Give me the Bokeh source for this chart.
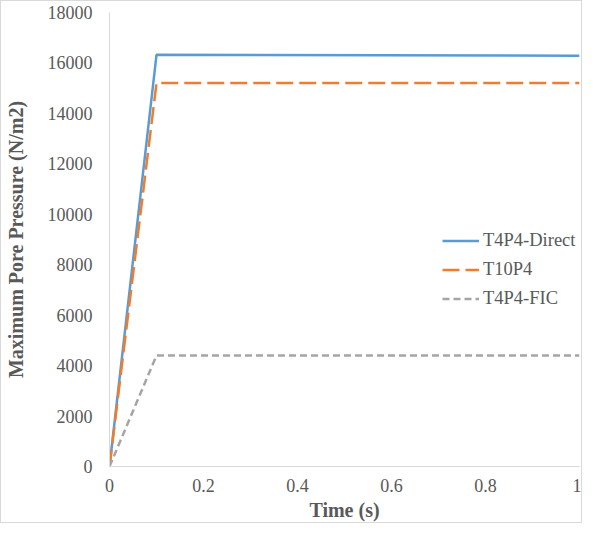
from bokeh.plotting import figure
from bokeh.models import Range1d, FixedTicker, Legend, LegendItem, CustomJSTickFormatter
from bokeh.embed import file_html
from bokeh.resources import INLINE

time_s = [0.0, 0.1, 1.0]
direct = [0, 16320, 16290]
t10p4 = [0, 15200, 15200]
fic = [0, 4400, 4400]

x_ticks = [0, 0.2, 0.4, 0.6, 0.8, 1.0]
y_ticks = [0, 2000, 4000, 6000, 8000, 10000, 12000, 14000, 16000, 18000]

FONT = "Liberation Serif"
GREY = "#595959"

p = figure(width=582, height=523, output_backend="svg", toolbar_location=None,
           x_range=Range1d(0, 1), y_range=Range1d(0, 18000),
           min_border_left=107, min_border_right=4, min_border_top=11, min_border_bottom=58)
p.styles = {"border": "1px solid #d9d9d9"}

p.outline_line_color = None
p.xgrid.grid_line_color = None
p.ygrid.grid_line_color = None

r1 = p.line(time_s, direct, line_color="#5B9BD5", line_width=2.5)
r2 = p.line(time_s, t10p4, line_color="#ED7D31", line_width=2.5, line_dash="17 6")
r3 = p.line(time_s, fic, line_color="#A5A5A5", line_width=2.5, line_dash="7 4")

for ax in (p.xaxis[0], p.yaxis[0]):
    ax.axis_line_color = "#d9d9d9"
    ax.axis_line_width = 1
    ax.major_tick_line_color = None
    ax.minor_tick_line_color = None
    ax.major_tick_out = 0
    ax.major_tick_in = 0
    ax.minor_tick_out = 0
    ax.minor_tick_in = 0
    ax.major_label_text_font = FONT
    ax.major_label_text_font_size = "18px"
    ax.major_label_text_color = GREY
    ax.axis_label_text_font = FONT
    ax.axis_label_text_font_size = "20px"
    ax.axis_label_text_font_style = "bold"
    ax.axis_label_text_color = GREY

p.xaxis.ticker = FixedTicker(ticks=x_ticks)
p.yaxis.ticker = FixedTicker(ticks=y_ticks)
p.xaxis.formatter = CustomJSTickFormatter(code="return String(Math.round(tick*10)/10);")
p.yaxis.formatter = CustomJSTickFormatter(code="return String(Math.round(tick));")
p.xaxis.major_label_standoff = 12
p.yaxis.major_label_standoff = 17
p.xaxis.axis_label = "Time (s)"
p.yaxis.axis_label = "Maximum Pore Pressure (N/m2)"
p.xaxis.axis_label_standoff = 4
p.yaxis.axis_label_standoff = 18

legend = Legend(items=[LegendItem(label="T4P4-Direct", renderers=[r1]),
                       LegendItem(label="T10P4", renderers=[r2]),
                       LegendItem(label="T4P4-FIC", renderers=[r3])],
                location=(333, 153))
legend.background_fill_alpha = 0
legend.border_line_color = None
legend.label_text_font = FONT
legend.label_text_font_size = "18.5px"
legend.label_text_color = GREY
legend.glyph_width = 37
legend.glyph_height = 29
legend.label_height = 29
legend.label_standoff = 4
legend.padding = 0
legend.spacing = 0
legend.margin = 0
p.add_layout(legend, "center")

open("out.html", "w").write(file_html(p, INLINE))
